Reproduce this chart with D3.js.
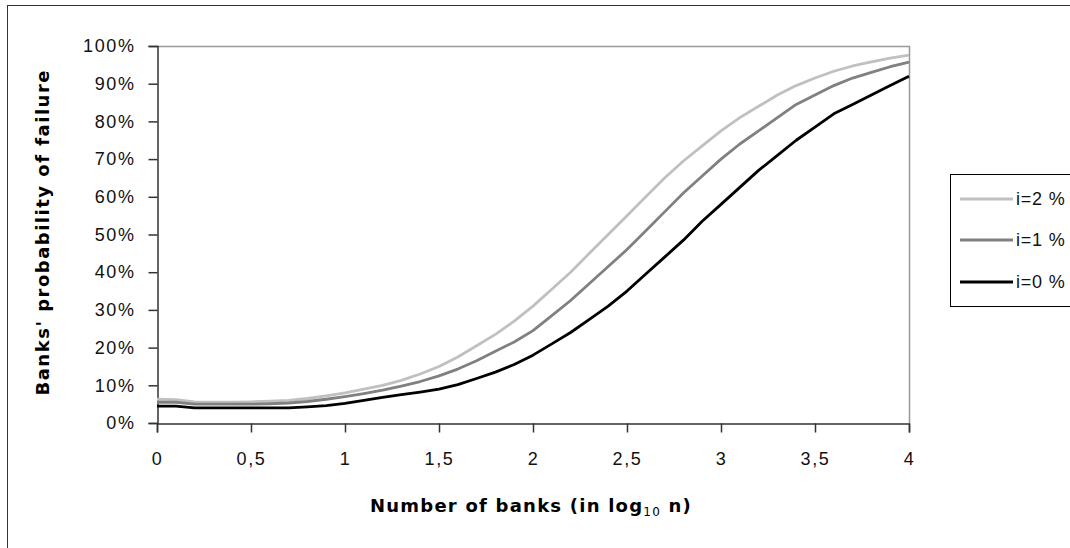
<!DOCTYPE html>
<html>
<head>
<meta charset="utf-8">
<script src="https://cdn.jsdelivr.net/npm/d3@7"></script>
<style>
  body { margin: 0; background: #fff; }
  svg { display: block; font-family: "Liberation Sans", Arial, sans-serif; }
</style>
</head>
<body>
<svg id="chart" width="1070" height="548"></svg>
<script>
// x values: log10 of number of banks
var xs = d3.range(0, 41).map(function(i) { return i / 10; });

// probability of failure (%)
var rate2 = [6.3, 6.2, 5.6, 5.5, 5.5, 5.6, 5.8, 6.0, 6.5, 7.2,
  8.0, 9.0, 10.0, 11.3, 13.0, 15.0, 17.5, 20.5, 23.5, 27.0,
  31.0, 35.5, 40.0, 45.0, 50.0, 55.0, 60.0, 65.0, 69.5, 73.5,
  77.5, 81.0, 84.0, 87.0, 89.5, 91.5, 93.3, 94.7, 95.8, 96.8, 97.6];
var rate1 = [5.5, 5.5, 5.0, 5.0, 5.0, 5.0, 5.1, 5.3, 5.7, 6.3,
  7.0, 7.8, 8.7, 9.8, 11.0, 12.5, 14.3, 16.5, 19.0, 21.5,
  24.5, 28.5, 32.5, 37.0, 41.5, 46.0, 51.0, 56.0, 61.0, 65.5,
  70.0, 74.0, 77.5, 81.0, 84.5, 87.0, 89.5, 91.5, 93.0, 94.5, 95.7];
var rate0 = [4.5, 4.5, 4.0, 4.0, 4.0, 4.0, 4.0, 4.0, 4.3, 4.6,
  5.2, 6.0, 6.8, 7.5, 8.2, 9.0, 10.2, 11.8, 13.5, 15.5,
  18.0, 21.0, 24.0, 27.5, 31.0, 35.0, 39.5, 44.0, 48.5, 53.5,
  58.0, 62.5, 67.0, 71.0, 75.0, 78.5, 82.0, 84.5, 87.0, 89.5, 92.0];

var seriesNames = ['i=2 %', 'i=1 %', 'i=0 %'];
var seriesColors = ['#c0c0c0', '#808080', '#000000'];
var seriesValues = [rate2, rate1, rate0];

var xTicks = [0, 0.5, 1, 1.5, 2, 2.5, 3, 3.5, 4];
var yTicks = d3.range(0, 101, 10);

var svg = d3.select('#chart');

// outer chart frame (cut off at right and bottom)
svg.append('rect')
  .attr('x', 7.5).attr('y', 5.5)
  .attr('width', 1100).attr('height', 600)
  .attr('fill', 'none').attr('stroke', '#333').attr('stroke-width', 1);

var x = d3.scaleLinear().domain([0, 4]).range([157, 909]);
var y = d3.scaleLinear().domain([0, 100]).range([423, 46]);

// plot area border (top / right)
svg.append('path')
  .attr('d', 'M' + x(0) + ',' + (y(100) + 0.5) + 'H' + (x(4) + 0.5) + 'V' + y(0))
  .attr('fill', 'none').attr('stroke', '#999').attr('stroke-width', 1.5);

var fmtX = function(d) { return String(d).replace('.', ','); };

var xAxis = svg.append('g')
  .attr('transform', 'translate(0,' + (y(0) + 0.5) + ')')
  .call(d3.axisBottom(x).tickValues(xTicks).tickFormat(fmtX).tickSizeOuter(0).tickSize(9).tickPadding(20));
var yAxis = svg.append('g')
  .attr('transform', 'translate(' + (x(0) + 0.5) + ',0)')
  .call(d3.axisLeft(y).tickValues(yTicks).tickFormat(function(d) { return d + '%'; }).tickSizeOuter(0).tickSize(9).tickPadding(13));

[xAxis, yAxis].forEach(function(a) {
  a.selectAll('.domain').attr('stroke', '#333').attr('stroke-width', 1.5);
  a.selectAll('.tick line').attr('stroke', '#333').attr('stroke-width', 1.5);
  a.selectAll('.tick text')
    .attr('fill', '#111')
    .style('font-size', '18px')
    .style('letter-spacing', '1.6px')
    .style('font-family', '"Liberation Sans", Arial, sans-serif');
});

var line = d3.line()
  .x(function(d, i) { return x(xs[i]); })
  .y(function(d) { return y(d); });

seriesValues.forEach(function(vals, k) {
  svg.append('path')
    .datum(vals)
    .attr('d', line)
    .attr('fill', 'none')
    .attr('stroke', seriesColors[k])
    .attr('stroke-width', 2.8)
    .attr('stroke-linejoin', 'round');
});

// axis titles
svg.append('text')
  .attr('transform', 'translate(49,' + 233 + ') rotate(-90)')
  .attr('text-anchor', 'middle')
  .attr('font-family', '"DejaVu Sans", Verdana, sans-serif')
  .attr('font-weight', 'bold')
  .attr('font-size', 18)
  .attr('textLength', 325)
  .attr('lengthAdjust', 'spacing')
  .attr('fill', '#000')
  .text("Banks' probability of failure");

var xt = svg.append('text')
  .attr('x', 370).attr('y', 512)
  .attr('font-family', '"DejaVu Sans", Verdana, sans-serif')
  .attr('font-weight', 'bold')
  .attr('font-size', 18)
  .attr('fill', '#000');
xt.append('tspan').text('Number of banks (in log');
xt.append('tspan').attr('font-size', 12).attr('font-weight', 'normal').attr('dy', 4).text('10');
xt.append('tspan').attr('dy', -4).text(' n)');
// spread letters so the title spans the same width as in the picture
var xtw = xt.node().getBBox().width;
var nChars = 'Number of banks (in log10 n)'.length;
xt.style('letter-spacing', Math.max(0, (322 - xtw) / nChars) + 'px');

// legend
var lg = svg.append('g');
lg.append('rect')
  .attr('x', 950.5).attr('y', 174.5)
  .attr('width', 200).attr('height', 132)
  .attr('fill', '#fff').attr('stroke', '#000').attr('stroke-width', 1);
var rowsY = [199, 240, 282];
seriesNames.forEach(function(name, k) {
  lg.append('line')
    .attr('x1', 960).attr('x2', 1013)
    .attr('y1', rowsY[k]).attr('y2', rowsY[k])
    .attr('stroke', seriesColors[k]).attr('stroke-width', 3);
  lg.append('text')
    .attr('x', 1016).attr('y', rowsY[k] + 6)
    .attr('font-size', 18)
    .style('letter-spacing', '0.8px')
    .attr('fill', '#111')
    .text(name);
});
</script>
</body>
</html>
